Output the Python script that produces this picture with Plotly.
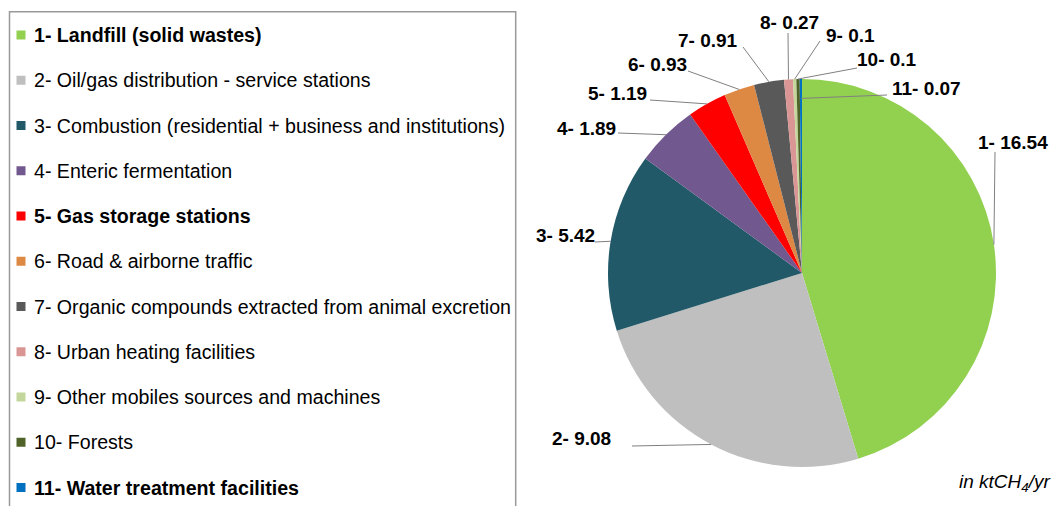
import math
import plotly.graph_objects as go

# ---------------- data ----------------
categories = [
    "1- Landfill (solid wastes)",
    "2- Oil/gas distribution - service stations",
    "3- Combustion (residential + business and institutions)",
    "4- Enteric fermentation",
    "5- Gas storage stations",
    "6- Road & airborne traffic",
    "7- Organic compounds extracted from animal excretion",
    "8- Urban heating facilities",
    "9- Other mobiles sources and machines",
    "10- Forests",
    "11- Water treatment facilities",
]
values = [16.54, 9.08, 5.42, 1.89, 1.19, 0.93, 0.91, 0.27, 0.1, 0.1, 0.07]
bold_items = [True, False, False, False, True, False, False, False, False, False, True]
colors = ["#92D050", "#BFBFBF", "#215968", "#71588F", "#FF0000", "#DD8843",
          "#595959", "#D99694", "#C3D69B", "#4F6228", "#0070C0"]
unit_note = "<i>in ktCH<sub>4</sub>/yr</i>"

# ---------------- layout constants (window pixels) ----------------
WIN_W, WIN_H = 1061, 506
OFF = 8                      # page body margin
W, H = WIN_W - OFF, WIN_H - OFF
PIE_CX, PIE_CY, PIE_R = 802, 273, 194
FONT = "Liberation Sans, Arial, sans-serif"

# label text centre (x, y), leader start (x, y), radial factor of leader end
label_layout = [
    (1013, 142, 995, 152, 1.0),
    (581, 438, 632, 446, 1.0),
    (565, 236, 595, 242, 1.0),
    (586, 128, 618, 133, 1.0),
    (617, 93, 650, 100, 1.0),
    (657, 65, 688, 71, 1.0),
    (708, 40, 743, 47, 1.0),
    (789, 22, 788, 33, 1.0),
    (850, 35, 820, 41, 1.0),
    (887, 60, 857, 68, 1.0),
    (926, 88, 887, 95, 0.9),
]

LEG_BOX = (9.5, 11.7, 515.7, 530)
LEG_Y0, LEG_DY = 35, 45.25
LEG_SQ_X, LEG_SQ = 21, 9
LEG_TEXT_X = 31.5


def fx(x):
    return (x - OFF) / W


def fy(y):
    return 1 - (y - OFF) / H


fig = go.Figure()
fig.add_trace(go.Pie(
    labels=categories,
    values=values,
    sort=False,
    direction="clockwise",
    rotation=0,
    marker=dict(colors=colors, line=dict(width=0)),
    textinfo="none",
    showlegend=False,
    domain=dict(x=[fx(PIE_CX - PIE_R), fx(PIE_CX + PIE_R)],
                y=[fy(PIE_CY + PIE_R), fy(PIE_CY - PIE_R)]),
))

shapes = []
annotations = []

# leader lines and value labels
total = sum(values)
cum = 0.0
for i, v in enumerate(values):
    mid = (cum + v / 2) / total * 2 * math.pi
    cum += v
    tx, ty, sx, sy, rf = label_layout[i]
    ex = PIE_CX + PIE_R * rf * math.sin(mid)
    ey = PIE_CY - PIE_R * rf * math.cos(mid)
    shapes.append(dict(type="line", xref="paper", yref="paper",
                       x0=fx(sx), y0=fy(sy), x1=fx(ex), y1=fy(ey),
                       line=dict(color="#808080", width=1), layer="above"))
    num = categories[i].split("-")[0]
    annotations.append(dict(
        x=fx(tx), y=fy(ty), xref="paper", yref="paper",
        text=f"<b>{num}- {v:g}</b>", showarrow=False,
        xanchor="center", yanchor="middle",
        font=dict(family=FONT, size=19, color="#000000")))

# legend box
shapes.append(dict(type="rect", xref="paper", yref="paper",
                   x0=fx(LEG_BOX[0]), y0=fy(LEG_BOX[3]),
                   x1=fx(LEG_BOX[2]), y1=fy(LEG_BOX[1]),
                   line=dict(color="#999999", width=1.5),
                   fillcolor="rgba(0,0,0,0)"))
for i, name in enumerate(categories):
    cy = LEG_Y0 + i * LEG_DY
    shapes.append(dict(type="rect", xref="paper", yref="paper",
                       x0=fx(LEG_SQ_X - LEG_SQ / 2), x1=fx(LEG_SQ_X + LEG_SQ / 2),
                       y0=fy(cy + LEG_SQ / 2), y1=fy(cy - LEG_SQ / 2),
                       line=dict(width=0), fillcolor=colors[i]))
    txt = f"<b>{name}</b>" if bold_items[i] else name
    annotations.append(dict(
        x=fx(LEG_TEXT_X), y=fy(cy), xref="paper", yref="paper",
        text=txt, showarrow=False, xanchor="left", yanchor="middle",
        font=dict(family=FONT, size=19.6, color="#000000")))

annotations.append(dict(
    x=fx(1052), y=fy(483), xref="paper", yref="paper",
    text=unit_note, showarrow=False, xanchor="right", yanchor="middle",
    font=dict(family=FONT, size=19, color="#000000")))

fig.update_layout(
    width=W, height=H,
    margin=dict(l=0, r=0, t=0, b=0),
    paper_bgcolor="white", plot_bgcolor="white",
    shapes=shapes, annotations=annotations,
    showlegend=False,
)

fig.write_html("out.html")
